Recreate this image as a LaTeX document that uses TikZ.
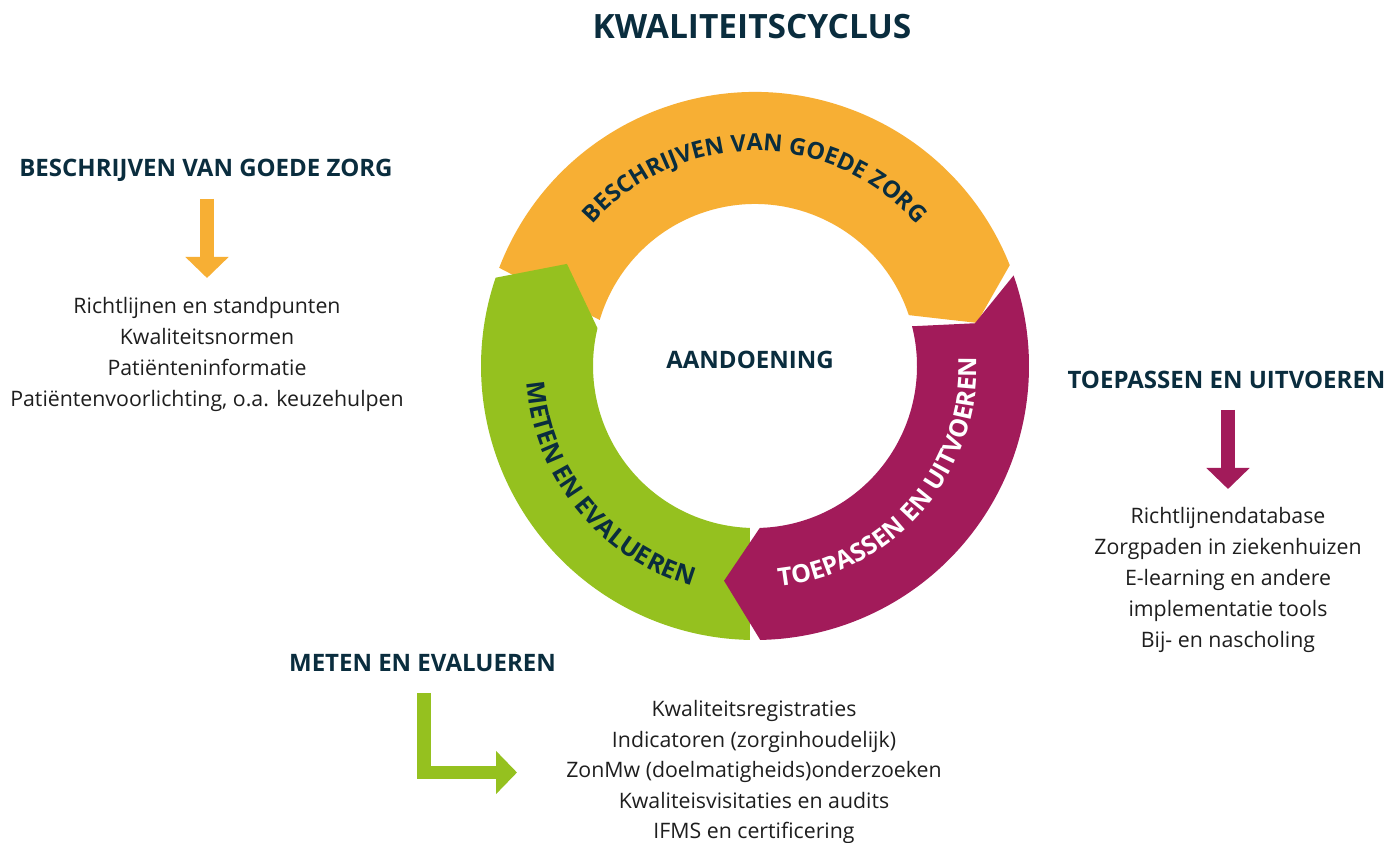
\documentclass[tikz,border=0pt]{standalone}
\usepackage{fontspec}
\setmainfont{Open Sans}
\usetikzlibrary{arrows.meta,decorations.text}
\definecolor{kOrange}{RGB}{247,175,52}
\definecolor{kGreen}{RGB}{149,193,31}
\definecolor{kMagenta}{RGB}{162,27,90}
\definecolor{kNavy}{RGB}{10,45,62}
\definecolor{kBody}{RGB}{30,30,30}
\newcommand{\ringfont}{\fontsize{23.5bp}{28bp}\selectfont\bfseries}
\newcommand{\ringfontb}{\fontsize{25bp}{30bp}\selectfont\bfseries}
\tikzset{
  titletext/.style={inner sep=0pt, text=kNavy, font=\fontsize{33.5bp}{40bp}\selectfont\bfseries},
  headtext/.style={inner sep=0pt, text=kNavy, font=\fontsize{24bp}{28bp}\selectfont\bfseries},
  bodytext/.style={inner sep=0pt, text=kBody, align=center, font=\fontsize{21.3bp}{31bp}\selectfont},
  fatarrow/.style={line width=14bp, -{Triangle[width=42bp,length=21bp]}},
  ringtext/.style={decorate, decoration={text along path, text align=center, text color=#1}}
}
\begin{document}
\begin{tikzpicture}[x=1bp,y=1bp]
\useasboundingbox (0,0) rectangle (1389,842);
\fill[white] (0,0) rectangle (1389,842);

% ring
\begin{scope}[shift={(755,476)}]
  \fill[kOrange] (159:274) arc[start angle=159,end angle=21.6,radius=274]
     -- (11:226) -- (18.3:162) arc[start angle=18.3,end angle=163.5,radius=162] -- cycle;
  \fill[kGreen] (268.9:274) arc[start angle=268.9,end angle=161.2,radius=274]
     -- (151.5:214) -- (166.5:162) arc[start angle=166.5,end angle=268.2,radius=162] -- cycle;
  \fill[kMagenta] (19.3:274) arc[start angle=19.3,end angle=-88.9,radius=274]
     -- (-98.2:217) -- (-88.3:162) arc[start angle=-88.3,end angle=14.2,radius=162]
     -- (11:224) -- cycle;
  \path[ringtext=kNavy, decoration={text={|\ringfont|BESCHRIJVEN VAN GOEDE ZORG}}]
     (170:215) arc[start angle=170,end angle=10,radius=215];
  \path[ringtext=kNavy, decoration={text={|\ringfontb|METEN EN EVALUEREN}}]
     (159.1:229) arc[start angle=159.1,end angle=279.1,radius=229];
  \path[ringtext=white, decoration={text={|\ringfontb|TOEPASSEN EN UITVOEREN}}]
     (-100.8:222) arc[start angle=-100.8,end angle=19.2,radius=222];
\end{scope}

\node[headtext] (center) at (750,482) {AANDOENING};

% title
\node[titletext] (title) at (752,815) {KWALITEITSCYCLUS};

% left block
\node[headtext] (h1) at (206,672) {BESCHRIJVEN VAN GOEDE ZORG};
\coordinate (a1s) at (207,643);
\coordinate (a1e) at (207,564);
\draw[kOrange, fatarrow] (a1s) -- (a1e);
\node[bodytext] (b1) at (207,488) {Richtlijnen en standpunten\\Kwaliteitsnormen\\Patiënteninformatie\\Patiëntenvoorlichting, o.a. keuzehulpen};

% right block
\node[headtext] (h2) at (1226.5,462) {TOEPASSEN EN UITVOEREN};
\coordinate (a2s) at (1228,432);
\coordinate (a2e) at (1228,353);
\draw[kMagenta, fatarrow] (a2s) -- (a2e);
\node[bodytext] (b2) at (1228,262) {Richtlijnendatabase\\Zorgpaden in ziekenhuizen\\E-learning en andere\\implementatie tools\\Bij- en nascholing};

% bottom block
\node[headtext] (h3) at (422.5,179) {METEN EN EVALUEREN};
\coordinate (a3s) at (424,149);
\coordinate (a3c) at (424,69.5);
\coordinate (a3e) at (517,69.5);
\draw[kGreen, fatarrow, line width=13.5bp, miter limit=10] (a3s) -- (a3c) -- (a3e);
\node[bodytext, font=\fontsize{21.3bp}{30.5bp}\selectfont] (b3) at (754,70) {Kwaliteitsregistraties\\Indicatoren (zorginhoudelijk)\\ZonMw (doelmatigheids)onderzoeken\\Kwaliteisvisitaties en audits\\IFMS en certificering};
\end{tikzpicture}
\end{document}
